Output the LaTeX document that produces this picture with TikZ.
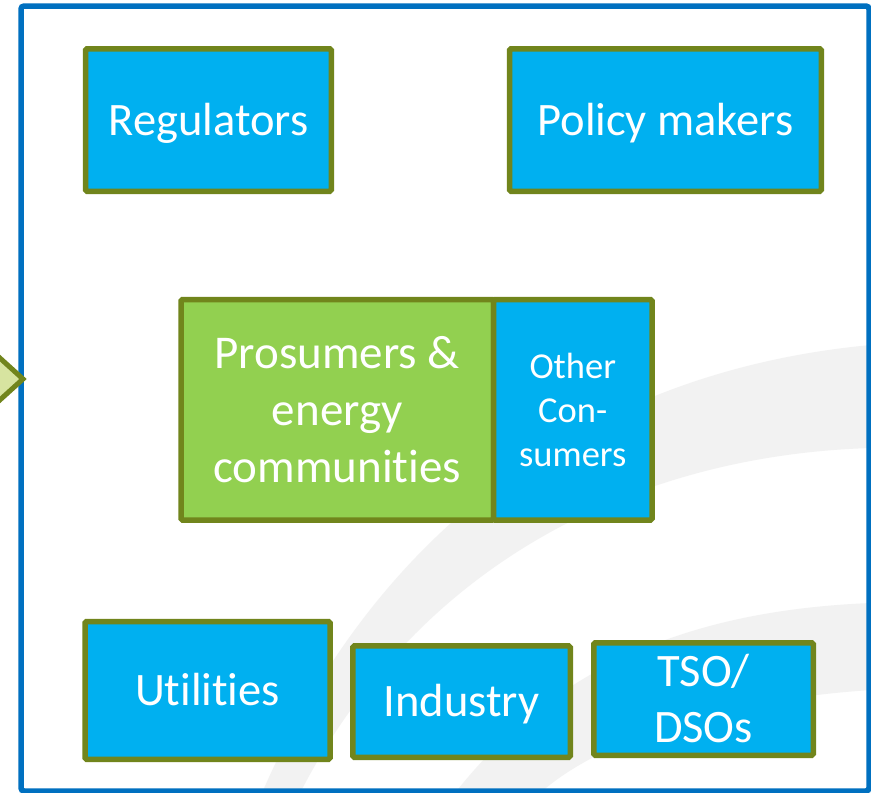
\documentclass[tikz,border=0pt]{standalone}
\usepackage{fontspec}
\setmainfont{Carlito}[Ligatures=NoCommon]
\definecolor{framblue}{RGB}{0,112,192}
\definecolor{boxblue}{RGB}{0,176,240}
\definecolor{olive}{RGB}{113,133,28}
\definecolor{leaf}{RGB}{146,208,80}
\definecolor{pale}{RGB}{215,228,160}
\definecolor{swoosh}{RGB}{242,242,242}
\tikzset{
  actor/.style={draw=olive, line width=5.5pt, fill=boxblue, rounded corners=1.5pt,
    inner sep=0pt, text=white, align=center,
    font=\fontsize{46.5}{56}\selectfont},
  oneline/.style={text height=30pt, text depth=0pt},
  small/.style={font=\fontsize{36.5}{44}\selectfont},
}
\begin{document}
\begin{tikzpicture}[x=1pt,y=-1pt]
\useasboundingbox (0,0) rectangle (871,793);
\clip (0,0) rectangle (871,793);
\fill[white] (0,0) rectangle (871,793);
% background swooshes
\fill[swoosh] (262,793) .. controls (380,520) and (600,370) .. (871,345)
  -- (871,448) .. controls (640,455) and (420,560) .. (300,793) -- cycle;
\fill[swoosh] (455,793) .. controls (560,660) and (700,610) .. (871,603)
  -- (871,690) .. controls (720,700) and (600,740) .. (540,793) -- cycle;
% frame
\node[draw=framblue, line width=5.5pt, rounded corners=3pt, minimum width=848pt,
  minimum height=785pt, inner sep=0pt] (frame) at (445,398.5) {};
% arrow at left
\draw[fill=pale, draw=olive, line width=5pt, line join=miter]
  (-20,340) -- (23,379) -- (-20,418) -- cycle;
% boxes
\node[actor, oneline, minimum width=245.8pt, minimum height=142.5pt] (reg) at (208.4,120) {Regulators};
\node[actor, oneline, minimum width=311.8pt, minimum height=142.5pt] (pol) at (665.4,120) {Policy makers};
\node[actor, fill=leaf, minimum width=312.5pt, minimum height=220.5pt,
  font=\fontsize{47}{57}\selectfont] (pro) at (337.25,409.75) {Prosumers \&\\energy\\communities};
\node[actor, small, minimum width=158.5pt, minimum height=220.5pt] (oth) at (572.75,409.75) {Other\\Con-\\sumers};
\node[actor, oneline, minimum width=245pt, minimum height=137.8pt] (uti) at (207.5,690.4) {Utilities};
\node[actor, oneline, minimum width=217.5pt, minimum height=111.3pt] (ind) at (461.5,701.6) {Industry};
\node[actor, minimum width=219.5pt, minimum height=112.5pt] (tso) at (703.5,699) {TSO/\\DSOs};
\end{tikzpicture}
\end{document}
